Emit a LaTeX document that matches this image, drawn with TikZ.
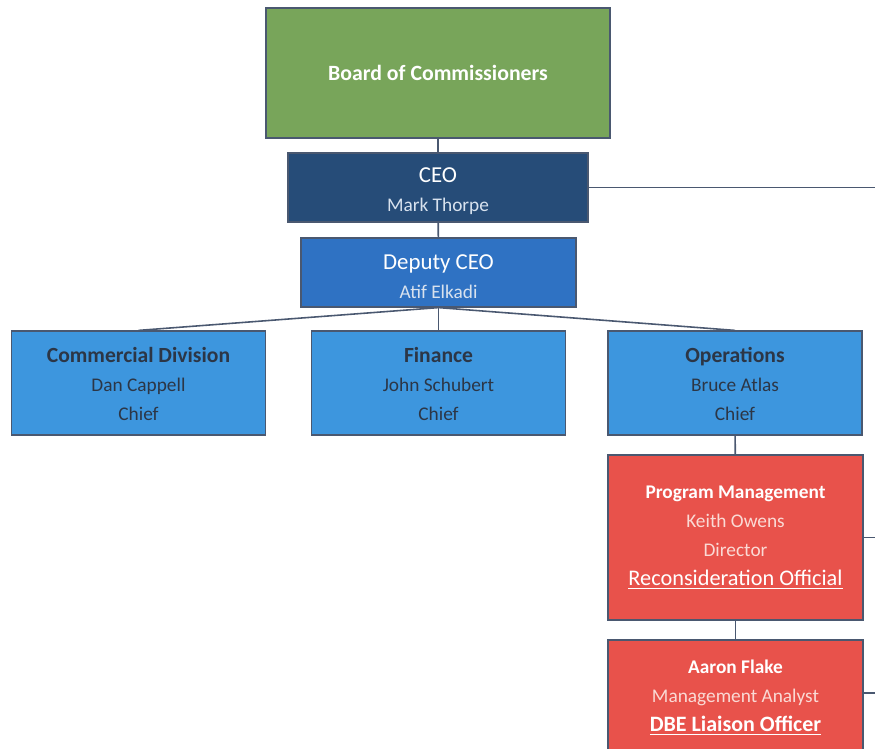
\documentclass[tikz,border=0pt]{standalone}
\usepackage{fontspec}
\setmainfont{Carlito}
\usepackage{tikz}
\definecolor{board}{HTML}{78A55A}
\definecolor{chief}{HTML}{264C78}
\definecolor{deputy}{HTML}{2F72C3}
\definecolor{division}{HTML}{3D96DE}
\definecolor{program}{HTML}{E8524B}
\definecolor{edge}{HTML}{4A5870}
\definecolor{divtext}{HTML}{2C3646}
\definecolor{paleblue}{HTML}{D8E2EE}
\definecolor{palered}{HTML}{FADAD5}
\newcommand{\headline}[1]{{\fontsize{13}{17}\selectfont\rule{0pt}{13pt}#1}}
\newcommand{\divtitle}[1]{{\fontsize{12.3}{16.5}\selectfont\bfseries\rule{0pt}{10pt}#1}}

\begin{document}
\begin{tikzpicture} [x=0.02cm,y=-0.02cm,
  unit/.style= {shape=rectangle,draw=edge,line width=0.7pt,align=center,inner sep=0,text=white,font=\fontsize{11}{16.5}\selectfont},
  divbox/.style= {unit,fill=division,minimum width=5.08cm,minimum height=2.08cm,text=divtext},
  redbox/.style= {unit,fill=program,minimum width=5.1cm},
  link/.style= {draw=edge,line width=0.9pt}]
  \clip (0,0) rectangle (875,749);
  % Top
  {\node[unit] [fill=board,minimum width=6.88cm,minimum height=2.6cm,font=\fontsize{12.4}{16}\selectfont\bfseries] (board) at (438,73) {Board of Commissioners};}
  {\node[unit] [fill=chief,minimum width=6cm,minimum height=1.38cm] (ceo) at (438,187.5) {\headline{CEO}\\\textcolor{paleblue}{Mark Thorpe}};}
  {\node[unit] [fill=deputy,minimum width=5.5cm,minimum height=1.38cm] (deputy) at (438.5,272.5) {\headline{Deputy CEO}\\\textcolor{paleblue}{Atif Elkadi}};}
  % Divisions
  {\node[divbox] (commercial) at (138.5,383) {\divtitle{Commercial Division}\\Dan Cappell\\Chief};}
  {\node[divbox] (finance)    at (438.5,383) {\divtitle{Finance}\\John Schubert\\Chief};}
  {\node[divbox] (operations) at (735,383)   {\divtitle{Operations}\\Bruce Atlas\\Chief};}
  % Operations branch
  {\node[redbox] [minimum height=3.3cm] (program) at (735.5,537.5) {\textbf{Program Management}\\\textcolor{palered}{Keith Owens}\\\textcolor{palered}{Director}\\\fontsize{12.7}{17.5}\selectfont\underline{Reconsideration Official}};}
  {\node[redbox] [minimum height=2.3cm] (analyst) at (735.5,697.5) {\textbf{Aaron Flake}\\\textcolor{palered}{Management Analyst}\\\fontsize{12.5}{17.5}\selectfont\bfseries\underline{DBE Liaison Officer}};}
  % Loose ends
  \coordinate (ceoout) at (880,187.5);
  \coordinate (programout) at (880,537.5);
  \coordinate (analystout) at (880,693);
  % Lines
  \draw[link] (board) -- (ceo);
  \draw[link] (ceo) -- (deputy);
  \draw[link] (ceo.east |- ceoout) -- (ceoout);
  \draw[link] (deputy.south) -- (commercial.north);
  \draw[link] (deputy.south) -- (finance.north);
  \draw[link] (deputy.south) -- (operations.north);
  \draw[link] (operations) -- (program);
  \draw[link] (program.east |- programout) -- (programout);
  \draw[link] (program) -- (analyst);
  \draw[link] (analyst.east |- analystout) -- (analystout);
\end{tikzpicture}
\end{document}
